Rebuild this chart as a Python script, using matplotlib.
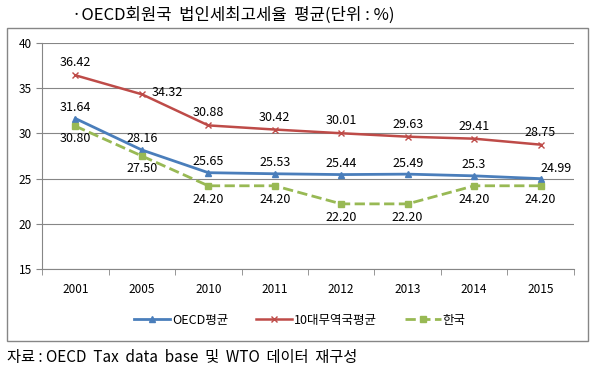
import numpy as np
import matplotlib
matplotlib.use('Agg')
import matplotlib.pyplot as plt
from matplotlib.patches import Rectangle

plt.rcParams['font.family'] = ['Noto Sans CJK KR', 'DejaVu Sans']

# 데이터
years = ['2001', '2005', '2010', '2011', '2012', '2013', '2014', '2015']
oecd_avg = [31.64, 28.16, 25.65, 25.53, 25.44, 25.49, 25.3, 24.99]
top10_avg = [36.42, 34.32, 30.88, 30.42, 30.01, 29.63, 29.41, 28.75]
korea = [30.80, 27.50, 24.20, 24.20, 22.20, 22.20, 24.20, 24.20]
oecd_labels = ['31.64', '28.16', '25.65', '25.53', '25.44', '25.49', '25.3', '24.99']
top10_labels = ['36.42', '34.32', '30.88', '30.42', '30.01', '29.63', '29.41', '28.75']
korea_labels = ['30.80', '27.50', '24.20', '24.20', '22.20', '22.20', '24.20', '24.20']

c_blue = '#4A7EBB'
c_red = '#BE4B48'
c_green = '#98B954'

fig = plt.figure(figsize=(5.94, 3.70), dpi=100)
ax = fig.add_axes([0.071, 0.273, 0.895, 0.611])

x = np.arange(len(years))
ax.plot(x, oecd_avg, color=c_blue, lw=2, marker='^', ms=5, label='OECD평균')
ax.plot(x, top10_avg, color=c_red, lw=1.8, marker='x', ms=5, mew=1, label='10대무역국평균')
ax.plot(x, korea, color=c_green, lw=2, ls='--', marker='s', ms=5, label='한국')

ax.set_xlim(-0.5, len(years) - 0.5)
ax.set_ylim(15, 40)
ax.set_yticks([15, 20, 25, 30, 35, 40])
ax.set_xticks(x)
ax.set_xticklabels(years, fontsize=8.5)
ax.set_xticks(np.arange(-0.5, len(years)), minor=True)
ax.tick_params(axis='x', which='major', length=0, pad=10)
ax.tick_params(axis='x', which='minor', length=4, color='#868686')
ax.tick_params(axis='y', length=4, color='#868686', labelsize=8.5)
ax.grid(axis='y', color='#868686', lw=0.8)
ax.set_axisbelow(True)
for s in ['top', 'right']:
    ax.spines[s].set_visible(False)
for s in ['left', 'bottom']:
    ax.spines[s].set_color('#868686')

# 데이터 레이블
lab_kw = dict(textcoords='offset points', ha='center', va='center', fontsize=9)
for i, (v, t) in enumerate(zip(top10_avg, top10_labels)):
    off = (18, 1) if i == 1 else (0, 9)
    ax.annotate(t, (x[i], v), xytext=off, **lab_kw)
for i, (v, t) in enumerate(zip(oecd_avg, oecd_labels)):
    off = (11, 7) if i == len(x) - 1 else (0, 8)
    ax.annotate(t, (x[i], v), xytext=off, **lab_kw)
for i, (v, t) in enumerate(zip(korea, korea_labels)):
    off = (0, -9) if i < 2 else (0, -10)
    ax.annotate(t, (x[i], v), xytext=off, **lab_kw)

fig.legend(loc='center', bbox_to_anchor=(0.505, 0.135), ncol=3, frameon=False,
           fontsize=9, handlelength=2.9, columnspacing=2.2, handletextpad=0.15)

fig.text(0.121, 0.959, '·OECD회원국  법인세최고세율  평균(단위 : %)', ha='left', va='center', fontsize=12)
fig.text(0.012, 0.035, '자료 : OECD  Tax  data  base  및  WTO  데이터  재구성', ha='left', va='center', fontsize=11)

fig.patches.append(Rectangle((0.0118, 0.078), 0.978, 0.846, transform=fig.transFigure,
                             fill=False, edgecolor='#868686', lw=1))

fig.savefig('out.png', dpi=100)
